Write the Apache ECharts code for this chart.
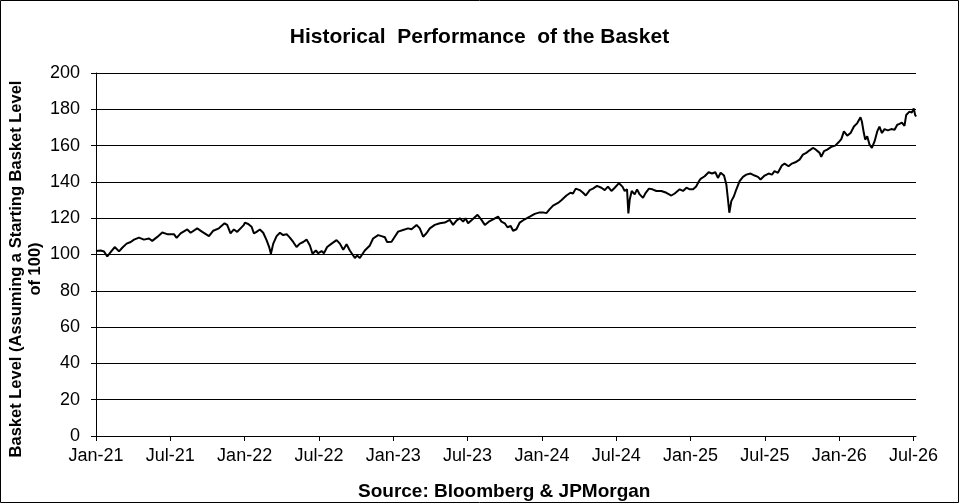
<!DOCTYPE html>
<html>
<head>
<meta charset="utf-8">
<script src="https://cdn.jsdelivr.net/npm/echarts@6/dist/echarts.min.js"></script>
<style>
html,body{margin:0;padding:0;background:#fff;}
#chart{width:959px;height:503px;}
</style>
</head>
<body>
<div id="chart"></div>
<script>
// x position: months elapsed since 1 Jan 2021
const monthsSinceJan21 = [
 0.00,0.38,0.65,0.91,1.18,1.51,1.86,2.12,2.47,2.80,3.07,3.47,3.87,4.28,4.54,4.95,5.35,5.75,
 6.29,6.51,6.83,7.37,7.64,8.17,8.58,9.12,9.47,9.92,10.38,10.59,10.86,11.13,11.40,11.67,11.94,
 12.02,12.29,12.56,12.75,12.96,13.23,13.50,13.77,13.98,14.12,14.31,14.58,14.85,15.11,15.39,15.65,
 15.92,16.19,16.46,16.73,17.00,17.27,17.48,17.75,17.94,18.21,18.40,18.66,19.02,19.42,19.69,19.96,
 20.23,20.49,20.90,21.08,21.30,21.70,22.11,22.37,22.78,23.05,23.32,23.50,23.65,23.86,
 24.12,24.39,24.79,25.20,25.47,25.88,26.14,26.41,26.68,26.95,27.35,27.76,28.16,28.56,28.83,29.10,
 29.37,29.64,29.83,30.04,30.36,30.80,31.12,31.39,31.71,32.06,32.46,32.73,33.00,33.22,33.48,33.67,
 33.94,34.21,34.61,35.02,35.42,35.82,36.09,36.36,36.63,36.90,37.30,37.57,37.98,38.30,38.51,38.73,
 39.05,39.32,39.54,39.86,40.12,40.45,40.80,41.07,41.33,41.61,41.88,42.22,42.50,42.68,42.87,42.98,
 43.09,43.25,43.49,43.68,43.89,44.16,44.38,44.64,44.92,45.24,45.64,46.05,46.45,46.72,47.12,47.39,
 47.67,47.94,48.21,48.45,48.69,48.81,49.14,49.46,49.73,50.00,50.21,50.43,50.70,50.89,51.02,51.13,
 51.29,51.50,51.69,51.96,52.23,52.50,52.85,53.17,53.44,53.65,53.98,54.30,54.57,54.78,55.05,55.37,
 55.59,55.91,56.18,56.46,56.80,57.07,57.34,57.61,57.87,58.07,58.23,58.42,58.55,58.77,59.03,59.36,
 59.68,59.95,60.17,60.38,60.65,60.92,61.19,61.46,61.72,61.83,61.99,62.10,62.26,62.45,62.64,62.86,
 63.07,63.25,63.45,63.66,63.93,64.20,64.47,64.69,64.87,65.06,65.27,65.41,65.67,65.86,66.02,66.13,66.21
];
const basketLevel = [
 101.9,102.2,101.7,98.9,101.3,104.1,101.7,103.7,106.0,106.9,108.2,109.3,108.2,108.8,107.5,109.7,112.1,111.2,
 111.2,109.2,111.6,113.8,112.0,114.4,112.5,110.1,113.1,114.4,117.2,116.3,111.6,113.8,112.5,114.4,116.3,
 117.6,116.8,115.3,111.6,112.5,113.8,112.0,107.9,104.1,100.4,106.0,110.1,112.0,110.7,111.2,109.3,
 106.9,104.1,106.0,106.9,108.2,105.0,100.4,102.2,100.7,101.9,100.7,104.1,106.0,107.9,106.0,102.6,
 105.6,102.2,98.1,99.4,98.1,102.2,105.0,108.8,110.7,110.1,109.5,106.9,106.3,107.0,
 109.8,112.6,113.5,114.4,113.9,116.3,114.4,109.8,111.7,114.4,116.3,117.2,117.6,119.1,116.3,118.7,
 120.0,118.1,120.0,117.2,119.1,121.9,119.1,116.3,118.1,119.4,120.9,118.1,117.2,115.0,115.7,113.1,
 113.9,117.6,119.4,120.9,122.4,123.2,123.2,122.8,125.0,126.9,128.4,129.9,132.5,134.0,133.6,136.3,
 135.5,134.0,132.5,135.5,136.3,137.8,136.8,135.5,137.4,135.0,136.8,139.3,137.4,135.0,135.9,122.6,
 130.3,135.0,133.1,135.9,133.1,131.2,134.0,136.3,135.9,135.0,135.0,134.0,132.5,133.6,135.9,135.0,
 136.8,135.9,136.0,137.5,140.5,141.7,143.1,145.3,144.6,145.3,142.2,145.0,143.5,138.5,130.3,123.0,
 129.4,132.1,135.8,140.4,142.8,144.0,144.6,143.5,142.8,141.3,143.5,144.6,144.0,145.9,145.0,149.0,
 150.1,148.6,150.1,150.8,152.3,155.0,156.0,157.4,158.7,158.0,158.2,156.0,153.8,156.9,157.8,159.3,
 160.0,161.8,163.6,167.8,165.5,166.9,170.5,172.4,175.6,173.3,166.9,163.3,165.1,160.5,158.7,162.4,
 167.8,170.5,166.9,169.1,168.4,169.1,168.7,171.5,172.0,172.7,170.9,176.9,178.7,178.2,180.5,176.9,176.0
];
const xTickMonths = [0,6,12,18,24,30,36,42,48,54,60,66];
const xTickLabels = ['Jan-21','Jul-21','Jan-22','Jul-22','Jan-23','Jul-23','Jan-24','Jul-24','Jan-25','Jul-25','Jan-26','Jul-26'];
const chartTitle = 'Historical  Performance  of the Basket';
const yAxisTitle = 'Basket Level (Assuming a Starting Basket Level\nof 100)';
const sourceNote = 'Source: Bloomberg & JPMorgan';

const seriesData = monthsSinceJan21.map((m, i) => [m, basketLevel[i]]);
const FONT = '"Liberation Sans", Arial, sans-serif';

const chart = echarts.init(document.getElementById('chart'));
chart.setOption({
  animation: false,
  backgroundColor: '#fff',
  title: [
    { text: chartTitle, left: 'center', top: 22,
      textStyle: { fontFamily: FONT, fontSize: 21, fontWeight: 'bold', color: '#000' } },
    { text: sourceNote, left: 353, top: 477,
      textStyle: { fontFamily: FONT, fontSize: 19, fontWeight: 'bold', color: '#000' } }
  ],
  grid: { left: 96, right: 43, top: 73, bottom: 67, containLabel: false },
  xAxis: {
    type: 'value', min: 0, max: 66.2, interval: 6,
    axisLine: { show: true, lineStyle: { color: '#000', width: 1 } },
    axisTick: { show: true, length: 5, inside: false, customValues: xTickMonths, lineStyle: { color: '#000' } },
    axisLabel: {
      customValues: xTickMonths,
      fontFamily: FONT, fontSize: 18, color: '#000', margin: 11,
      formatter: v => { const i = xTickMonths.indexOf(Math.round(v)); return i >= 0 ? xTickLabels[i] : ''; }
    },
    splitLine: { show: false }
  },
  yAxis: {
    type: 'value', min: 0, max: 200, interval: 20,
    axisLine: { show: true, lineStyle: { color: '#000', width: 1 } },
    axisTick: { show: true, length: 5, inside: false, lineStyle: { color: '#000' } },
    axisLabel: { fontFamily: FONT, fontSize: 18, color: '#000', margin: 16 },
    splitLine: { show: true, lineStyle: { color: '#000', width: 1 } }
  },
  graphic: [
    { type: 'rect', silent: true, shape: { x: 0.5, y: 0.5, width: 958, height: 502 },
      style: { fill: 'none', stroke: '#000', lineWidth: 1 } },
    { type: 'text', x: 26, y: 269, rotation: Math.PI / 2, silent: true,
      style: { text: yAxisTitle, fill: '#000', font: 'bold 16.5px ' + FONT,
               align: 'center', verticalAlign: 'middle', textAlign: 'center', textVerticalAlign: 'middle', lineHeight: 19 } }
  ],
  series: [{
    type: 'line', data: seriesData, showSymbol: false, symbol: 'none',
    lineStyle: { color: '#000', width: 2 }, clip: false
  }]
});
</script>
</body>
</html>
